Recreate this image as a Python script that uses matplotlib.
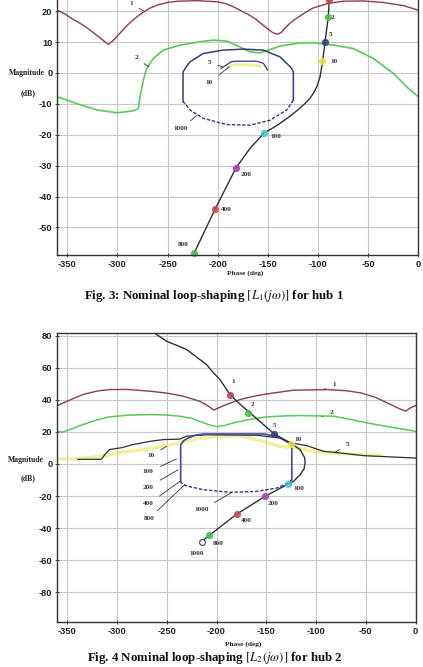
import matplotlib
matplotlib.use("Agg")
import matplotlib.pyplot as plt
import numpy as np

plt.rcParams['mathtext.fontset'] = 'stix'

# ---------------- data: Fig. 3 (hub 1) ----------------
t1_phase = [-360, -352, -345, -337, -330, -318, -309, -304, -300, -290, -282, -275, -268, -260,
            -250, -240, -220, -200, -192, -185, -170, -162, -155, -145, -140, -136, -133, -127,
            -120, -112, -105, -90, -75, -55, -35, -15, 0]
t1_mag = [20.3, 19.0, 17.5, 16.0, 14.5, 11.5, 9.2, 10.6, 12.0, 15.5, 17.8, 19.5, 20.9, 22.0,
          22.8, 23.2, 23.4, 23.0, 22.4, 21.5, 19.0, 17.4, 15.5, 13.0, 12.5, 13.3, 14.5, 16.4,
          18.0, 19.7, 21.0, 22.5, 23.2, 23.3, 22.8, 21.8, 20.3]

t2_phase = [-360, -340, -320, -300.7, -285, -279.2, -277.5, -274, -270.8, -264.2, -254.2, -237.6,
            -217.7, -204.4, -191, -177.8, -167.8, -157.8, -151.2, -137.9, -118, -104.7, -84.7,
            -64.8, -44.9, -24.9, -11.6, 0]
t2_mag = [-7.7, -10.0, -12.0, -12.9, -12.3, -11.6, -7.7, -2.0, 1.5, 4.7, 7.4, 9.0,
          10.1, 10.6, 10.3, 8.4, 6.8, 6.5, 7.2, 8.7, 9.7, 9.8, 9.0,
          7.9, 4.7, -0.1, -4.5, -7.7]

tloop_solid_phase = [-234.6, -234.6, -231, -227.6, -214.4, -194.4, -174.5, -154.5, -137.9, -126.2, -124.6, -124.6]
tloop_solid_mag = [-9.3, 0.3, 2.2, 3.6, 6.3, 7.4, 7.7, 7.4, 5.2, 1.5, 0.3, -8.8]
tloop_dash_phase = [-124.6, -131.2, -147.9, -167.8, -191, -214.4, -227.6, -232.6, -234.6]
tloop_dash_mag = [-8.8, -12.0, -15.3, -16.9, -16.7, -14.7, -12.0, -9.9, -9.3]

t5_phase = [-196.7, -191.7, -186.7, -181.7, -161.1, -154.5, -151.2, -150.5]
t5_mag = [1.5, 2.5, 3.6, 3.8, 3.8, 3.1, 1.5, 0.9]
t10_phase = [-190, -185, -165, -158]
t10_mag = [1.8, 2.6, 2.6, 2.2]

tnom_phase = [-88.7, -89.7, -93, -95.3, -98, -101, -104.7, -108, -113, -121, -130, -140, -154,
              -167.8, -181.8, -202.7, -223.4]
tnom_mag = [25, 18.2, 10.1, 4.1, -1.3, -4.3, -6.6, -8.2, -9.9, -12.2, -14.5, -16.8, -19.5,
            -24.4, -30.7, -44.1, -58.2]

t_freqs = ['1', '2', '5', '10', '100', '200', '400', '800']
t_freq_phase = [-88.9, -90.4, -93, -95.8, -154, -181.8, -202.7, -223.4]
t_freq_mag = [23.6, 18.2, 10.1, 4.0, -19.5, -30.7, -44.1, -58.2]

# ---------------- data: Fig. 4 (hub 2) ----------------
b1_phase = [-360, -345, -334.3, -320, -307.5, -290, -267, -250, -233.6, -216.7, -208, -202.6,
            -196, -189.9, -176.4, -162, -149.5, -122.7, -89, -70, -55.4, -40, -28.5, -18,
            -10.1, -5, 0]
b1_mag = [36.4, 40.5, 43.3, 45.5, 46.4, 46.5, 45.4, 44.2, 42.3, 39.1, 36.0, 33.6,
          35.5, 37.1, 40.2, 42.3, 43.7, 46.0, 46.4, 45.7, 44.4, 41.5, 38.1, 35.0,
          32.9, 35.0, 36.4]

b2_phase = [-360, -354.8, -345, -334.3, -320, -307.5, -290, -267, -250, -237, -225, -216.7,
            -208, -200, -192, -183.2, -165, -149.5, -130, -115.9, -82.3, -65, -48.7, -25, 0]
b2_mag = [20.4, 19.8, 22.0, 24.6, 27.5, 29.4, 30.4, 30.8, 30.5, 29.8, 28.5, 26.6,
          24.5, 23.3, 24.0, 25.6, 28.0, 29.4, 30.0, 30.2, 29.8, 27.8, 25.6, 23.0, 20.4]

bloop_solid_phase = [-236, -236, -233, -228.5, -221, -213.4, -152.9, -139.4, -128, -124.3, -124.3]
bloop_solid_mag = [-11, 12, 14.5, 16.2, 18, 18.7, 18.7, 17.3, 13.5, 12, -9.8]
bloop_dash_phase = [-124.3, -128, -139.4, -159.6, -186.5, -213.4, -228, -233.6, -236]
bloop_dash_mag = [-9.8, -12, -15, -17.1, -17.7, -16, -14, -12.9, -11]

b5_phase = [-339.3, -315.8, -310.8, -307.5, -295, -284, -267, -253.7, -236.9, -230.1, -210,
            -159.6, -146.2, -136.1, -126, -109.2, -92.4, -82.3, -52.1, 0]
b5_mag = [2.9, 2.9, 6.9, 9.0, 10.2, 12.1, 14.1, 15.2, 15.5, 17.3, 18.2,
          17.9, 16.9, 16.2, 13.3, 11.4, 7.9, 7.3, 5.2, 3.7]

b10_phase = [-360, -340, -320, -307.5, -287.3, -267, -253.7, -235, -216.7, -200, -175, -152.9,
             -136.1, -119.3, -102.5, -85.7, -52.1, -35]
b10_mag = [3.1, 3.3, 4.5, 5.8, 7.9, 9.5, 11.0, 13.5, 16.0, 17.2, 17.5, 14.1,
           11.0, 10.0, 7.9, 6.9, 5.8, 5.2]

bnom_phase = [-266, -262, -250.3, -240, -230.1, -223.5, -210, -203.3, -196.6, -186.5, -175, -166.3,
              -152.9, -141.8, -124.3, -115.9, -111.5, -110.9, -112, -115.9, -122.7, -128,
              -151.2, -179.7, -207.4, -215]
bnom_mag = [84, 81.5, 76.6, 74, 71.4, 68.3, 62, 57, 52.7, 43.3, 36.5, 31.9,
            24.6, 18.7, 12.5, 8.9, 4, 1, -3, -6.7, -10.9, -12.5,
            -20.2, -31.3, -44.6, -48.4]

b_freqs = ['1', '2', '5', '10', '100', '200', '400', '800', '1000']
b_freq_phase = [-186.5, -168, -142.3, -124.8, -128, -151.2, -179.7, -207.4, -215]
b_freq_mag = [43.3, 31.9, 18.7, 12.5, -12.5, -20.2, -31.3, -44.6, -48.4]

x_ticks = [-350, -300, -250, -200, -150, -100, -50, 0]
top_y_ticks = [-50, -40, -30, -20, -10, 0, 10, 20]
bot_y_ticks = [-80, -60, -40, -20, 0, 20, 40, 60, 80]

# ---------------- styles ----------------
W, H = 423, 667
C_RED = '#8e3d4e'
C_GREEN = '#5ac85a'
C_NAVY = '#3a3a7e'
C_BLACK = '#303030'
C_YELLOW = '#e6e65a'
C_BLUE = '#4646a8'
freq_colors = {'1': '#b04a58', '2': '#4cbb4c', '5': '#3a3a90', '10': '#e4e44a',
               '100': '#40c8d8', '200': '#b040b0', '400': '#c84848', '800': '#40c050',
               '1000': '#ffffff'}

serif = ['Liberation Serif', 'DejaVu Serif']
sans = ['Liberation Sans', 'DejaVu Sans']

fig = plt.figure(figsize=(W / 100, H / 100), dpi=100)
fig.patch.set_facecolor('white')


def fx(px):
    return px / W


def fy(py):
    return 1 - py / H


def style_axes(ax, yticks, ylim):
    ax.set_xlim(-360, 0)
    ax.set_ylim(*ylim)
    ax.set_xticks(x_ticks)
    ax.set_yticks(yticks)
    ax.set_xticklabels([str(v) for v in x_ticks])
    ax.set_yticklabels([str(v) for v in yticks])
    ax.grid(True, color='#c8c8c8', linewidth=0.8, linestyle='-')
    ax.set_axisbelow(True)
    ax.tick_params(direction='inout', length=3, width=0.6, pad=2.0, colors='#222222',
                   labelsize=6.7)
    for lab in ax.get_xticklabels() + ax.get_yticklabels():
        lab.set_fontfamily(sans)
        lab.set_fontweight('bold')
    for s in ax.spines.values():
        s.set_color('#333333')
        s.set_linewidth(1.0)


def small_text(ax, s, x, y, tx=None, ty=None, size=5.2):
    if tx is None:
        ax.text(x, y, s, fontsize=size, family=serif, fontweight='bold', color='#333333',
                ha='center', va='center')
    else:
        ax.annotate(s, xy=(tx, ty), xytext=(x, y), fontsize=size, family=serif,
                    fontweight='bold', color='#333333', ha='center', va='center',
                    arrowprops=dict(arrowstyle='-', color='#333333', lw=0.6,
                                    shrinkA=3, shrinkB=0))


# ---------------- top axes ----------------
ax1 = fig.add_axes([fx(57.3), fy(255.3), fx(418.3 - 57.3), 255.3 / H])
style_axes(ax1, top_y_ticks, (-59, 23.6))
ax1.spines['top'].set_visible(False)

ax1.plot(t1_phase, t1_mag, color=C_RED, lw=1.0)
ax1.plot(t2_phase, t2_mag, color=C_GREEN, lw=1.2)
ax1.plot(tloop_solid_phase, tloop_solid_mag, color=C_NAVY, lw=1.1)
ax1.plot(tloop_dash_phase, tloop_dash_mag, color=C_NAVY, lw=1.0, ls=(0, (2.5, 1.2)))
ax1.plot(t10_phase, t10_mag, color=C_YELLOW, lw=2.0, alpha=0.6)
ax1.plot(t5_phase, t5_mag, color=C_NAVY, lw=0.9)
ax1.plot(tnom_phase, tnom_mag, color=C_BLACK, lw=1.0)
for f, p, m in zip(t_freqs, t_freq_phase, t_freq_mag):
    ax1.plot([p], [m], marker='o', ms=4.2, mfc=freq_colors[f], mec=freq_colors[f],
             alpha=0.85, clip_on=False, ls='none')

small_text(ax1, '1', -286.6, 22.6, -274.1, 20.1)
small_text(ax1, '2', -281.4, 5.0, -269.2, 2.0)
small_text(ax1, '5', -208.5, 3.4, -195.6, 2.0)
small_text(ax1, '10', -208.5, -3.2, -188.5, 2.0)
small_text(ax1, '1000', -236.5, -18.0, -221.0, -13.8)
small_text(ax1, '2', -86.0, 18.0)
small_text(ax1, '5', -88.0, 12.4)
small_text(ax1, '10', -83.5, 3.8)
small_text(ax1, '100', -142.0, -20.6)
small_text(ax1, '200', -172.0, -33.0)
small_text(ax1, '400', -191.0, -44.2)
small_text(ax1, '800', -234.5, -55.6)

# ---------------- bottom axes ----------------
ax2 = fig.add_axes([fx(57.3), fy(622.3), fx(415.5 - 57.3), (622.3 - 333.3) / H])
style_axes(ax2, bot_y_ticks, (-98.75, 81.5))

ax2.plot(b10_phase, b10_mag, color=C_YELLOW, lw=2.6, alpha=0.55)
ax2.plot(b1_phase, b1_mag, color=C_RED, lw=1.0)
ax2.plot(b2_phase, b2_mag, color=C_GREEN, lw=1.1)
ax2.plot(b5_phase, b5_mag, color=C_BLACK, lw=0.9)
ax2.plot(bloop_solid_phase, bloop_solid_mag, color=C_BLUE, lw=1.2)
ax2.plot(bloop_dash_phase, bloop_dash_mag, color=C_NAVY, lw=1.0, ls=(0, (2.5, 1.2)))
ax2.plot(bnom_phase, bnom_mag, color=C_BLACK, lw=1.0)
for f, p, m in zip(b_freqs, b_freq_phase, b_freq_mag):
    if f == '1000':
        ax2.plot([p], [m], marker='o', ms=4.2, mfc='white', mec='#444444', mew=0.8, ls='none')
    else:
        ax2.plot([p], [m], marker='o', ms=4.2, mfc=freq_colors[f], mec=freq_colors[f],
                 alpha=0.85, ls='none')

small_text(ax2, '1', -183.2, 51.6)
small_text(ax2, '2', -164.0, 37.1)
small_text(ax2, '5', -141.8, 24.0)
small_text(ax2, '10', -117.6, 15.4)
small_text(ax2, '1', -82.0, 49.5, -92.0, 46.5)
small_text(ax2, '2', -84.5, 32.3, -94.0, 29.6)
small_text(ax2, '5', -68.0, 12.0, -80.6, 7.4)
small_text(ax2, '10', -266.0, 5.0, -250.3, 11.0)
small_text(ax2, '100', -268.5, -5.0, -240.2, 3.1)
small_text(ax2, '200', -268.5, -14.4, -238.6, -3.6)
small_text(ax2, '400', -268.0, -24.8, -236.9, -10.9)
small_text(ax2, '800', -268.0, -34.2, -231.9, -12.9)
small_text(ax2, '1000', -215.0, -28.6, -184.8, -17.9)
small_text(ax2, '100', -117.5, -15.6)
small_text(ax2, '200', -143.0, -24.8)
small_text(ax2, '400', -169.5, -35.2)
small_text(ax2, '800', -198.0, -49.4)
small_text(ax2, '1000', -220.0, -55.8)

# ---------------- labels and captions ----------------
lab_kw = dict(family=serif, fontweight='bold', color='#222222', ha='center', va='center')
fig.text(fx(26.5), fy(72.7), 'Magnitude', fontsize=5.6, **lab_kw)
fig.text(fx(28.3), fy(92.7), '(dB)', fontsize=5.6, **lab_kw)
fig.text(fx(245), fy(272.7), 'Phase (deg)', fontsize=5.3, **lab_kw)
fig.text(fx(25.5), fy(460.0), 'Magnitude', fontsize=5.6, **lab_kw)
fig.text(fx(28.3), fy(478.3), '(dB)', fontsize=5.6, **lab_kw)
fig.text(fx(242.7), fy(644.3), 'Phase (deg)', fontsize=5.3, **lab_kw)

cap_kw = dict(family=serif, fontweight='bold', color='#111111', ha='center', va='center',
              fontsize=9.3)
fig.text(fx(214), fy(296.5), r'Fig. 3: Nominal loop-shaping $[L_1(j\omega)]$ for hub 1', **cap_kw)
fig.text(fx(215), fy(657.5), r'Fig. 4 Nominal loop-shaping $[L_2(j\omega)]$ for hub 2', **cap_kw)

fig.savefig('out.png', dpi=100, facecolor='white')
